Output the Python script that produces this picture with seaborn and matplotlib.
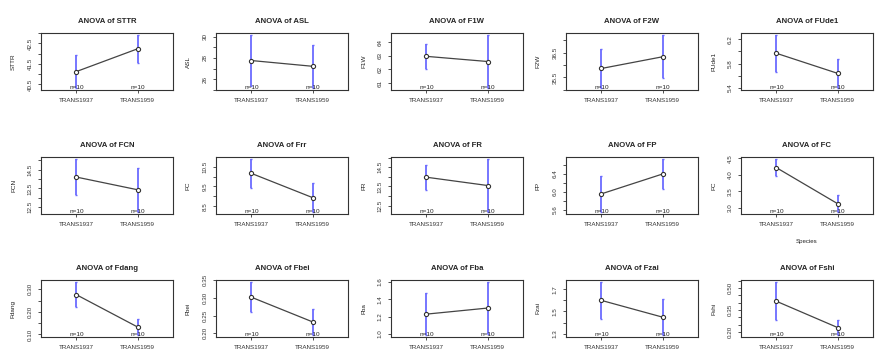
import numpy as np
import pandas as pd
import matplotlib
matplotlib.use('Agg')
import matplotlib.pyplot as plt
import matplotlib.transforms as mtransforms
from matplotlib.ticker import FixedLocator, MultipleLocator
import seaborn as sns

# Group means and confidence half-widths
variables = ['STTR', 'ASL', 'F1W', 'F2W', 'FUde1',
             'FCN', 'Frr', 'FR', 'FP', 'FC',
             'Fdang', 'Fbei', 'Fba', 'Fzai', 'Fshi']
ylabels = ['STTR', 'ASL', 'F1W', 'F2W', 'FUde1',
           'FCN', 'FC', 'FR', 'FP', 'FC',
           'Fdang', 'Fbei', 'Fba', 'Fzai', 'Fshi']
groups = ['TRANS1937', 'TRANS1959']
n_counts = [10, 10]

means_1937 = [41.13, 27.76, 62.97, 35.86, 5.97,
              14.10, 10.16, 13.98, 5.96, 4.22,
              0.276, 0.302, 1.23, 1.60, 0.41]
ci_1937 = [0.80, 2.39, 0.93, 0.78, 0.30,
           0.95, 0.72, 0.65, 0.40, 0.26,
           0.056, 0.043, 0.24, 0.165, 0.13]
means_1959 = [42.24, 27.22, 62.59, 36.33, 5.64,
              13.43, 8.94, 13.55, 6.40, 3.13,
              0.133, 0.232, 1.30, 1.449, 0.232]
ci_1959 = [0.67, 2.03, 1.95, 0.87, 0.24,
           1.17, 0.72, 1.37, 0.33, 0.25,
           0.035, 0.037, 0.30, 0.16, 0.05]

# labelled y ticks and the step of the unlabelled ticks in between
ytick_values = [[40.5, 41.5, 42.5], [26, 28, 30], [61, 62, 63, 64], [35.5, 36.5], [5.4, 5.8, 6.2],
                [12.5, 13.5, 14.5], [8.5, 9.5, 10.5], [12.5, 13.5, 14.5], [5.6, 6.0, 6.4], [3.0, 3.5, 4.0, 4.5],
                [0.10, 0.20, 0.30], [0.20, 0.25, 0.30, 0.35], [1.0, 1.2, 1.4, 1.6], [1.3, 1.5, 1.7], [0.20, 0.35, 0.50]]
ytick_text = [['40.5', '41.5', '42.5'], ['26', '28', '30'], ['61', '62', '63', '64'], ['35.5', '36.5'], ['5.4', '5.8', '6.2'],
              ['12.5', '13.5', '14.5'], ['8.5', '9.5', '10.5'], ['12.5', '13.5', '14.5'], ['5.6', '6.0', '6.4'], ['3.0', '3.5', '4.0', '4.5'],
              ['0.10', '0.20', '0.30'], ['0.20', '0.25', '0.30', '0.35'], ['1.0', '1.2', '1.4', '1.6'], ['1.3', '1.5', '1.7'], ['0.20', '0.35', '0.50']]
minor_steps = [0.5, 1, 1, 0.5, 0.2,
               0.5, 0.5, 0.5, 0.2, 0.5,
               0.05, 0.05, 0.2, 0.1, 0.05]

sns.set_style('white')
plt.rcParams['font.family'] = ['Liberation Sans', 'DejaVu Sans']

W, H = 875, 354
fig = plt.figure(figsize=(W / 100, H / 100), dpi=100)

box_left, box_w, pitch = 41, 132, 175
box_tops = [33, 157, 280]
box_h = 57
bar_color = '#6b6bff'
line_color = '#444444'

for i, var in enumerate(variables):
    r, c = divmod(i, 5)
    left = c * pitch + box_left
    ax = fig.add_axes([left / W, 1 - (box_tops[r] + box_h) / H, box_w / W, box_h / H])

    df = pd.DataFrame({
        'pos': [1, 2],
        'group': groups,
        'mean': [means_1937[i], means_1959[i]],
        'ci': [ci_1937[i], ci_1959[i]],
    })

    ax.errorbar(df['pos'], df['mean'], yerr=df['ci'], fmt='none', ecolor=bar_color,
                elinewidth=1.3, capsize=1.0, capthick=1.0, zorder=2)
    sns.lineplot(data=df, x='pos', y='mean', ax=ax, color=line_color, lw=0.9,
                 marker='o', markersize=3.0, markerfacecolor='white',
                 markeredgecolor='#333333', markeredgewidth=0.8, zorder=3)

    lo = (df['mean'] - df['ci']).min()
    hi = (df['mean'] + df['ci']).max()
    pad = 0.04 * (hi - lo)
    ax.set_ylim(lo - pad, hi + pad)
    ax.set_xlim(0.42, 2.58)

    # n= labels along the bottom edge
    trans = mtransforms.blended_transform_factory(ax.transData, ax.transAxes)
    for pos, n in zip(df['pos'], n_counts):
        ax.text(pos, 0.0, f'n={n}', transform=trans, ha='center', va='bottom',
                fontsize=4.6, color='#222222')

    ax.set_xticks([1, 2])
    ax.set_xticklabels(groups)
    ax.yaxis.set_major_locator(FixedLocator(ytick_values[i]))
    ax.set_yticklabels(ytick_text[i], rotation=90, va='center')
    ax.yaxis.set_minor_locator(MultipleLocator(minor_steps[i]))
    ax.tick_params(axis='both', which='both', direction='out', length=2.5, width=0.6,
                   colors='#333333', labelsize=4.5, left=True, bottom=True)
    ax.tick_params(axis='x', pad=3.0)
    ax.tick_params(axis='y', pad=3.5)

    ax.set_xlabel('')
    ax.set_ylabel(ylabels[i], fontsize=4.6, color='#222222')
    ax.yaxis.set_label_coords(-25 / box_w, 0.5)
    ax.set_title(f'ANOVA of {var}', fontsize=5.6, fontweight='bold', pad=7.5)

    for sp in ax.spines.values():
        sp.set_visible(True)
        sp.set_linewidth(0.8)
        sp.set_color('#333333')

    if var == 'FC':
        ax.text(0.5, -27 / box_h, 'Species', transform=ax.transAxes, ha='center',
                va='center', fontsize=4.4, color='#222222')

fig.savefig('out.png', dpi=100, facecolor='white')
